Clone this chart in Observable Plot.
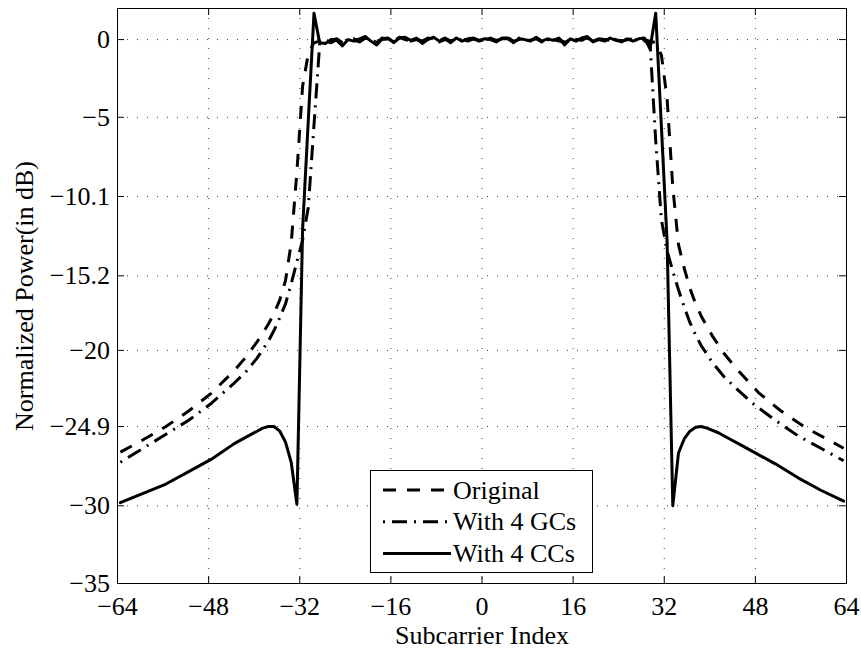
<!DOCTYPE html>
<html>
<head>
<meta charset="utf-8">
<script src="https://cdn.jsdelivr.net/npm/d3@7"></script>
<script src="https://cdn.jsdelivr.net/npm/@observablehq/plot@0.6"></script>
<style>
  html, body { margin: 0; padding: 0; background: #fff; }
  #wrap { position: relative; width: 861px; height: 652px; }
  #legend { position: absolute; left: 370px; top: 470px; }
</style>
</head>
<body>
<div id="wrap"></div>
<script>
// ---- tick values ----
const xTicks = [-64, -48, -32, -16, 0, 16, 32, 48, 64];
const yTicks = [0, -5, -10.1, -15.2, -20, -24.9, -30, -35];

// ---- series names ----
const seriesNames = ["Original", "With 4 GCs", "With 4 CCs"];

// ---- Original (dashed) ----
const origLeftX = [-63.5,-59.5,-55.5,-51.5,-47.5,-43.5,-41.5,-39.5,-38.5,-37.5,-36.5,-35.5,-34.5,-33.5,-32.5,-31.5,-30.5,-29.5];
const origLeftY = [-26.55,-25.75,-24.9,-23.9,-22.75,-21.3,-20.45,-19.45,-18.9,-18.3,-17.6,-16.75,-15.5,-13.1,-8.5,-3.0,-0.9,-0.2];
const origRightX = [29.5,30.5,31.5,32.5,33.5,34.5,35.5,36.5,37.5,38.5,40.5,42.5,44.5,48.5,52.5,56.5,60.5,63.5];
const origRightY = [-0.1,-0.2,-1.0,-3.8,-9.5,-13.2,-14.7,-16.0,-17.0,-17.8,-19.1,-20.2,-21.1,-22.7,-23.9,-24.9,-25.7,-26.3];

// ---- With 4 GCs (dash-dot) ----
const gcLeftX = [-63.5,-59.5,-55.5,-51.5,-47.5,-43.5,-41.5,-39.5,-37.5,-36.5,-35.5,-34.5,-33.5,-32.5,-31.5,-30.5,-29.5];
const gcLeftY = [-27.2,-26.3,-25.4,-24.5,-23.4,-22.1,-21.4,-20.5,-19.4,-18.7,-17.9,-17.0,-15.7,-14.3,-12.9,-10.8,-5.5];
const gcRightX = [29.5,30.5,31.5,32.5,33.5,34.5,35.5,36.5,37.5,38.5,40.5,42.5,44.5,47.5,51.5,55.5,59.5,63.5];
const gcRightY = [-0.2,-6.5,-11.6,-13.6,-14.9,-16.1,-17.2,-18.2,-19.0,-19.7,-20.8,-21.7,-22.4,-23.4,-24.5,-25.5,-26.3,-27.1];

// ---- With 4 CCs (solid) ----
const ccLeftX = [-63.5,-59.5,-55.5,-51.5,-47.5,-43.5,-41.5,-39.5,-38.5,-37.5,-36.5,-35.5,-34.5,-33.5,-32.5,-31.5,-30.5,-29.5];
const ccLeftY = [-29.8,-29.2,-28.6,-27.8,-27.0,-26.0,-25.6,-25.2,-25.0,-24.9,-24.9,-25.2,-25.9,-27.2,-29.9,-12.2,-5.2,1.7];
const ccRightX = [29.5,30.5,31.5,32.5,33.5,34.5,35.5,36.5,37.5,38.5,39.5,41.5,43.5,45.5,47.5,51.5,55.5,59.5,63.5];
const ccRightY = [-0.6,1.7,-5.6,-13.0,-30.0,-26.6,-25.7,-25.2,-24.95,-24.9,-25.0,-25.3,-25.7,-26.1,-26.5,-27.3,-28.2,-29.0,-29.7];

// ---- in-band subcarriers (-28.5 ... 28.5) ----
const bandX = d3.range(-28.5, 29, 1);
const ccBand = [
  -0.2,-0.25,0.0,-0.05,-0.4,0.0,-0.1,0.05,0.2,-0.1,
  -0.35,0.05,0.1,-0.2,0.1,0.15,-0.05,0.1,-0.25,0.0,
  0.15,-0.1,0.05,-0.2,0.1,-0.1,0.05,0.1,-0.05,0.05,
  0.0,-0.15,0.1,0.1,-0.2,0.05,0.0,-0.1,0.15,-0.1,
  0.05,-0.05,0.1,-0.35,0.05,-0.1,0.1,0.2,-0.15,0.0,
  -0.1,0.1,-0.05,-0.15,0.05,-0.1,0.05,0.1
];
const origBand = [
  -0.1,-0.15,-0.05,0.05,-0.2,-0.05,0.05,-0.1,0.1,0.0,
  -0.2,0.1,0.0,-0.1,0.15,0.0,-0.1,0.05,-0.1,0.1,
  0.0,-0.05,0.1,-0.1,0.0,0.05,-0.1,0.05,0.0,-0.05,
  0.1,-0.05,0.0,0.15,-0.1,0.0,0.1,-0.05,0.05,-0.15,
  0.1,0.0,-0.1,-0.15,0.1,0.0,-0.05,0.15,-0.1,0.05,
  0.0,-0.05,0.1,-0.1,0.0,0.05,-0.1,0.0
];
const gcBand = [
  -0.3,-0.1,-0.2,0.0,-0.25,0.05,-0.05,-0.15,0.1,-0.05,
  -0.15,0.0,0.05,-0.15,0.05,0.1,-0.1,0.0,-0.15,0.05,
  0.1,-0.15,0.0,-0.1,0.05,-0.05,0.0,0.05,-0.1,0.0,
  0.05,-0.1,0.05,0.05,-0.15,0.1,-0.05,-0.05,0.1,-0.05,
  0.0,-0.1,0.05,-0.2,0.0,-0.05,0.05,0.1,-0.1,0.05,
  -0.05,0.05,0.0,-0.1,0.0,-0.05,0.0,-0.1
];

function build(name, lx, ly, band, rx, ry) {
  const rows = [];
  lx.forEach((x, i) => rows.push({name, x, y: ly[i]}));
  bandX.forEach((x, i) => rows.push({name, x, y: band[i]}));
  rx.forEach((x, i) => rows.push({name, x, y: ry[i]}));
  return rows;
}
const origData = build(seriesNames[0], origLeftX, origLeftY, origBand, origRightX, origRightY);
const gcData = build(seriesNames[1], gcLeftX, gcLeftY, gcBand, gcRightX, gcRightY);
const ccData = build(seriesNames[2], ccLeftX, ccLeftY, ccBand, ccRightX, ccRightY);

const fmt = d => d < 0 ? "\u2212" + String(-d) : String(d);

const W = 861, H = 652, mL = 117, mR = 15, mT = 8, mB = 69;
const plotW = W - mL - mR, plotH = H - mT - mB;
const dashOrig = "13,11";
const dashGC = "2,7,15,7";
const font = "'Liberation Serif', 'Times New Roman', serif";

const chart = Plot.plot({
  width: W, height: H,
  marginLeft: mL, marginRight: mR, marginTop: mT, marginBottom: mB,
  x: {domain: [-64, 64]},
  y: {domain: [-35, 2]},
  style: {fontFamily: font, fontSize: "26px", background: "#fff", color: "#000"},
  marks: [
    Plot.gridX(xTicks, {stroke: "#000", strokeOpacity: 0.75, strokeDasharray: "1,9"}),
    Plot.gridY(yTicks, {stroke: "#000", strokeOpacity: 0.75, strokeDasharray: "1,9"}),
    Plot.tickX(xTicks, {x: d => d, insetTop: plotH - 7, stroke: "#000"}),
    Plot.tickX(xTicks, {x: d => d, insetBottom: plotH - 7, stroke: "#000"}),
    Plot.tickY(yTicks, {y: d => d, insetRight: plotW - 7, stroke: "#000"}),
    Plot.tickY(yTicks, {y: d => d, insetLeft: plotW - 7, stroke: "#000"}),
    Plot.line(origData, {x: "x", y: "y", stroke: "#000", strokeWidth: 3, strokeDasharray: dashOrig, strokeLinejoin: "round", strokeLinecap: "butt"}),
    Plot.line(gcData, {x: "x", y: "y", stroke: "#000", strokeWidth: 3, strokeDasharray: dashGC, strokeLinejoin: "round", strokeLinecap: "butt"}),
    Plot.line(ccData, {x: "x", y: "y", stroke: "#000", strokeWidth: 3, strokeLinejoin: "round", strokeLinecap: "round"}),
    Plot.frame({stroke: "#000", strokeWidth: 1}),
    Plot.axisX(xTicks, {tickSize: 0, tickPadding: 13.5, label: null, tickFormat: fmt, fontSize: 26}),
    Plot.axisY(yTicks, {tickSize: 0, tickPadding: 7.5, label: null, tickFormat: fmt, fontSize: 26}),
    Plot.text(["Subcarrier Index"], {frameAnchor: "bottom", dy: 52, fontSize: 26, lineAnchor: "middle", textAnchor: "middle"}),
    Plot.text(["Normalized Power(in dB)"], {frameAnchor: "left", dx: -93, rotate: -90, fontSize: 26, lineAnchor: "middle", textAnchor: "middle"})
  ]
});
document.getElementById("wrap").appendChild(chart);

// ---- legend (overlay) ----
const ns = "http://www.w3.org/2000/svg";
const lg = document.createElementNS(ns, "svg");
lg.setAttribute("id", "legend");
lg.setAttribute("width", 224);
lg.setAttribute("height", 104);
const box = document.createElementNS(ns, "rect");
box.setAttribute("x", 0.5); box.setAttribute("y", 0.5);
box.setAttribute("width", 222); box.setAttribute("height", 102);
box.setAttribute("fill", "#fff"); box.setAttribute("stroke", "#000");
lg.appendChild(box);
const styles = [dashOrig, dashGC, null];
seriesNames.forEach((name, i) => {
  const cy = 20 + i * 31.7;
  const ln = document.createElementNS(ns, "line");
  ln.setAttribute("x1", 13); ln.setAttribute("x2", 81);
  ln.setAttribute("y1", cy); ln.setAttribute("y2", cy);
  ln.setAttribute("stroke", "#000"); ln.setAttribute("stroke-width", 3);
  if (styles[i]) ln.setAttribute("stroke-dasharray", styles[i]);
  lg.appendChild(ln);
  const t = document.createElementNS(ns, "text");
  t.setAttribute("x", 83); t.setAttribute("y", cy + 8.5);
  t.setAttribute("font-family", font); t.setAttribute("font-size", 26);
  t.textContent = name;
  lg.appendChild(t);
});
document.getElementById("wrap").appendChild(lg);
</script>
</body>
</html>
